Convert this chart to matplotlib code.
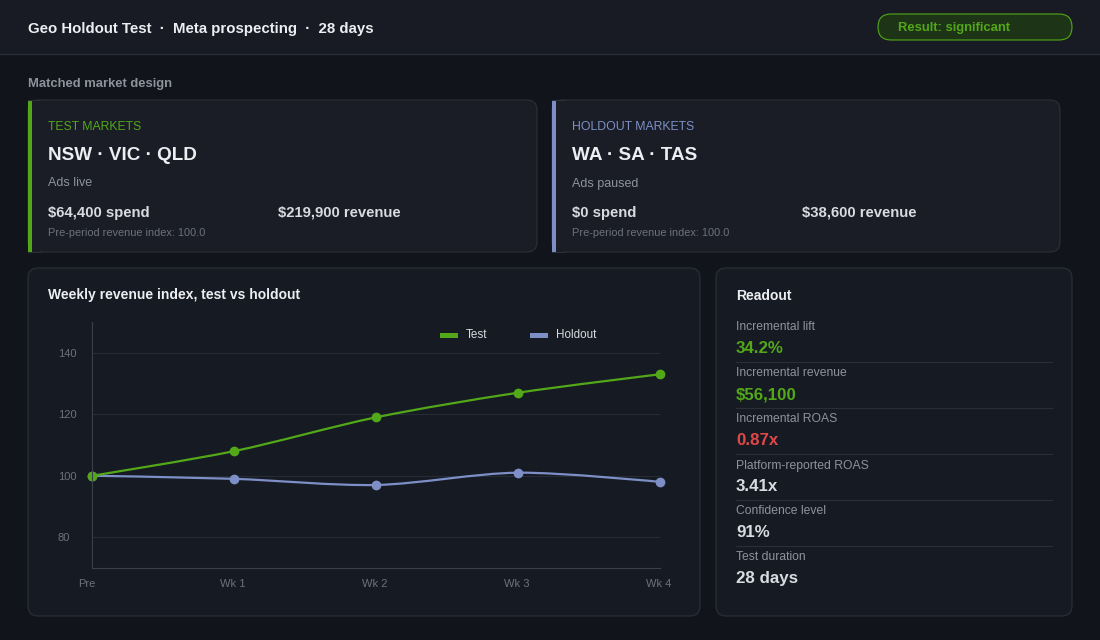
import numpy as np
import matplotlib
matplotlib.use("Agg")
import matplotlib.pyplot as plt
import matplotlib.transforms as mtransforms
from matplotlib.patches import FancyBboxPatch, Rectangle, PathPatch
from matplotlib.path import Path

plt.rcParams['font.family'] = ['Liberation Sans', 'DejaVu Sans']

# data
weeks = ["Pre", "Wk 1", "Wk 2", "Wk 3", "Wk 4"]
test_index = [100, 108, 119, 127, 133]
holdout_index = [100, 99, 97, 101, 98]
y_ticks = [80, 100, 120, 140]

test_markets = "NSW · VIC · QLD"
holdout_markets = "WA · SA · TAS"
test_spend, test_revenue = "$64,400 spend", "$219,900 revenue"
holdout_spend, holdout_revenue = "$0 spend", "$38,600 revenue"

readout_labels = ["Incremental lift", "Incremental revenue", "Incremental ROAS",
                  "Platform-reported ROAS", "Confidence level", "Test duration"]
readout_values = ["34.2%", "$56,100", "0.87x", "3.41x", "91%", "28 days"]

# colours
BG = "#11141b"
HEADER = "#181b23"
CARD = "#1a1d26"
CARD2 = "#161a23"
EDGE = "#2c303b"
GREEN = "#52a818"
BLUE = "#7d8fc6"
RED = "#e04848"
WHITE = "#eceef1"
VAL = "#d8dbe0"
GREY = "#8d929c"
DIM = "#6c717b"
readout_colors = [GREEN, GREEN, RED, VAL, VAL, VAL]

W, H = 1100, 640
fig = plt.figure(figsize=(11, 6.4), dpi=100, facecolor=BG)
bg = fig.add_axes([0, 0, 1, 1])
bg.set_xlim(0, W)
bg.set_ylim(H, 0)
bg.axis("off")
bg.set_facecolor(BG)


def card(x0, y0, x1, y1, fc, r=10, ec=EDGE):
    bg.add_patch(FancyBboxPatch((x0, y0), x1 - x0, y1 - y0,
                                boxstyle=f"round,pad=0,rounding_size={r}",
                                fc=fc, ec=ec, lw=0.8))


def txt(x, y, s, size, color, weight="normal", **kw):
    bg.text(x, y + 1.5, s, fontsize=size, color=color, fontweight=weight,
            va="center", ha=kw.pop("ha", "left"), **kw)


# header
bg.add_patch(Rectangle((0, 0), W, 54, fc=HEADER, ec="none"))
bg.plot([0, W], [54, 54], color="#2a2e38", lw=1)
txt(28, 27, "Geo Holdout Test  ·  Meta prospecting  ·  28 days", 10.8, WHITE, "bold")
card(878, 14, 1072, 40, "#1e3417", r=13, ec=GREEN)
txt(898, 27, "Result: significant", 9.4, GREEN, "bold")

txt(28, 83, "Matched market design", 9.4, GREY, "bold")

# market cards
for x0, x1, col, title, mk, status, spend, rev, rx in [
        (28, 537, GREEN, "TEST MARKETS", test_markets, "Ads live", test_spend, test_revenue, 278),
        (552, 1060, BLUE, "HOLDOUT MARKETS", holdout_markets, "Ads paused", holdout_spend, holdout_revenue, 802)]:
    card(x0, 100, x1, 252, CARD)
    bg.add_patch(Rectangle((x0, 100.5), 12, 151, fc=CARD, ec="none"))
    bg.plot([x0, x0 + 12], [100.4, 100.4], color=EDGE, lw=0.8)
    bg.plot([x0, x0 + 12], [251.6, 251.6], color=EDGE, lw=0.8)
    bg.add_patch(Rectangle((x0, 100), 4, 152, fc=col, ec="none"))
    tx = x0 + 20
    txt(tx, 125, title, 8.8, col)
    txt(tx, 154, mk, 13.6, WHITE, "bold")
    txt(tx, 182, status, 9, GREY)
    txt(tx, 211, spend, 10.7, VAL, "bold")
    txt(rx, 211, rev, 10.7, VAL, "bold")
    txt(tx, 232, "Pre-period revenue index: 100.0", 7.9, DIM)

# lower cards
card(28, 268, 700, 616, CARD2)
card(716, 268, 1072, 616, CARD2)
txt(48, 294, "Weekly revenue index, test vs holdout", 10, WHITE, "bold")
txt(736, 294, "Readout", 10, WHITE, "bold")

for i, (lab, val, c) in enumerate(zip(readout_labels, readout_values, readout_colors)):
    y = 326 + 46 * i
    txt(736, y, lab, 8.7, GREY)
    txt(736, y + 21, val, 12.2, c, "bold")
    if i < len(readout_labels) - 1:
        bg.plot([736, 1052], [y + 36, y + 36], color="#2a2e38", lw=0.8)

# line chart
ax = fig.add_axes([92 / W, (H - 568) / H, 568 / W, 246 / H])
ax.set_facecolor("none")
x = np.arange(len(weeks))
ax.set_xlim(0, len(weeks) - 1)
ax.set_ylim(70, 150)
ax.set_yticks(y_ticks)
ax.set_xticks(x)
ax.set_xticklabels(weeks)
ax.tick_params(length=0, colors=DIM, labelsize=8)
ax.tick_params(axis="x", pad=8)
ax.tick_params(axis="y", pad=24.5)
ax.grid(axis="y", color="#272b35", lw=0.8)
ax.set_axisbelow(True)
for s in ["top", "right"]:
    ax.spines[s].set_visible(False)
for s in ["left", "bottom"]:
    ax.spines[s].set_color("#3a3f4c")
    ax.spines[s].set_linewidth(0.8)
for lbl in ax.get_yticklabels():
    lbl.set_ha("left")
for i, lbl in enumerate(ax.get_xticklabels()):
    dx = -5 if i == 0 else -1.5
    lbl.set_transform(lbl.get_transform() + mtransforms.ScaledTranslation(dx / 100, 0, fig.dpi_scale_trans))


def smooth_path(xs, ys, sx=142.0, sy=3.07, t=0.3):
    px = np.array(xs, float) * sx
    py = np.array(ys, float) * sy
    n = len(px)
    cps = []
    for i in range(n):
        if i == 0 or i == n - 1:
            cps.append(((px[i], py[i]), (px[i], py[i])))
            continue
        d01 = np.hypot(px[i] - px[i - 1], py[i] - py[i - 1])
        d12 = np.hypot(px[i + 1] - px[i], py[i + 1] - py[i])
        fa = t * d01 / (d01 + d12)
        fb = t * d12 / (d01 + d12)
        dx, dy = px[i + 1] - px[i - 1], py[i + 1] - py[i - 1]
        cps.append(((px[i] - fa * dx, py[i] - fa * dy), (px[i] + fb * dx, py[i] + fb * dy)))
    verts = [(px[0], py[0])]
    codes = [Path.MOVETO]
    for i in range(1, n):
        verts += [cps[i - 1][1], cps[i][0], (px[i], py[i])]
        codes += [Path.CURVE4] * 3
    verts = [(a / sx, b / sy) for a, b in verts]
    return Path(verts, codes)


for vals, col in [(holdout_index, BLUE), (test_index, GREEN)]:
    ax.add_patch(PathPatch(smooth_path(x, vals), fc="none", ec=col, lw=1.6, clip_on=False))
    ax.plot(x, vals, "o", color=col, ms=6, clip_on=False)

# legend
for lx, lab, col in [(440, "Test", GREEN), (530, "Holdout", BLUE)]:
    bg.add_patch(Rectangle((lx, 333), 18, 5, fc=col, ec="none"))
    txt(lx + 26, 334, lab, 8.4, VAL)

fig.savefig("out.png", dpi=100, facecolor=BG)
